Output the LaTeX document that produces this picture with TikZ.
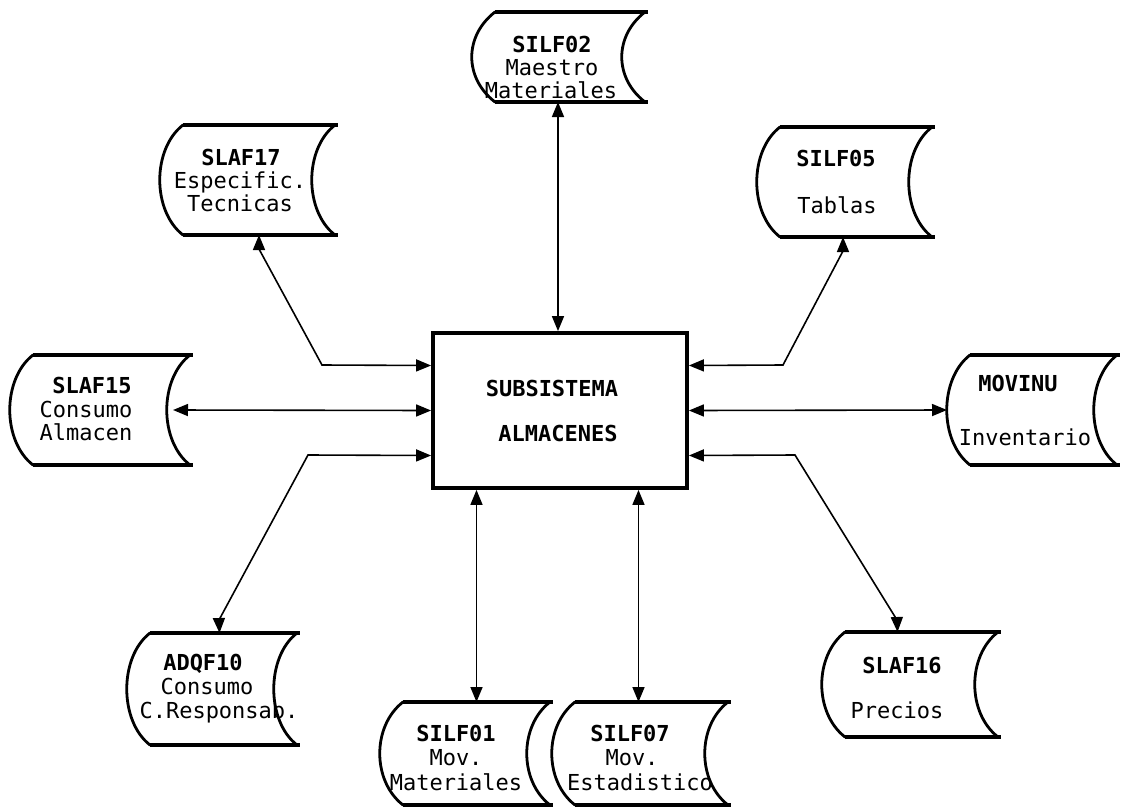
\documentclass[tikz,border=0pt]{standalone}
\usepackage{fontspec}
\setmonofont{DejaVu Sans Mono}
\usetikzlibrary{arrows.meta}
\tikzset{
  frame/.style={inner sep=0pt, outer sep=0pt, draw=none},
  arcline/.style={line width=2.8pt, line cap=round},
  edgeline/.style={line width=3.8pt},
  mainbox/.style={draw, line width=3.8pt, inner sep=0pt, minimum width=254pt, minimum height=155pt},
  conn/.style={line width=1.6pt, {Triangle[length=15pt,width=12pt]}-{Triangle[length=15pt,width=12pt]}},
  lbl/.style={inner sep=0pt, anchor=base, font=\fontsize{22}{24}\selectfont\ttfamily},
  nm/.style={lbl, font=\fontsize{22}{24}\selectfont\ttfamily\bfseries},
}
\newcommand\storeshape[1]{%
  \draw[arcline] (#1.north west) .. controls +(-31,24) and +(-31,-24) .. (#1.south west);
  \draw[arcline] (#1.north east) .. controls +(-31,24) and +(-31,-24) .. (#1.south east);
  \draw[edgeline] (#1.north west) -- ([xshift=3pt]#1.north east);
  \draw[edgeline] (#1.south west) -- ([xshift=3pt]#1.south east);
}
\begin{document}
\begin{tikzpicture}[x=1pt,y=-1pt]
\useasboundingbox (0,0) rectangle (1128,809);
% frames
\node[frame, minimum width=150pt, minimum height=90pt] (silf02) at (570,57) {};
\node[frame, minimum width=152pt, minimum height=110pt] (slaf17) at (259,180) {};
\node[frame, minimum width=152pt, minimum height=110pt] (silf05) at (856,182) {};
\node[frame, minimum width=157pt, minimum height=110pt] (slaf15) at (111.5,410) {};
\node[frame, minimum width=147pt, minimum height=110pt] (movinu) at (1043.5,410) {};
\node[frame, minimum width=147pt, minimum height=103pt] (silf01) at (476.5,753.5) {};
\node[frame, minimum width=153pt, minimum height=103pt] (silf07) at (651.5,753.5) {};
\node[frame, minimum width=147pt, minimum height=112pt] (adqf10) at (223.5,689) {};
\node[frame, minimum width=153pt, minimum height=105pt] (slaf16) at (921.5,684.5) {};
\foreach \n in {silf02,slaf17,silf05,slaf15,movinu,silf01,silf07,adqf10,slaf16} {\storeshape{\n}}
% central box
\node[mainbox] (box) at (560,410.5) {};
% labels
\node[nm] (t02a) at (552,52) {SILF02};
\node[lbl] (t02b) at (552,75) {Maestro};
\node[lbl] (t02c) at (551,98) {Materiales};
\node[nm] (t17a) at (241,165) {SLAF17};
\node[lbl] (t17b) at (240,188) {Especific.};
\node[lbl] (t17c) at (240,211) {Tecnicas};
\node[nm] (t05a) at (836,166) {SILF05};
\node[lbl] (t05b) at (837,213) {Tablas};
\node[nm] (t15a) at (92,393) {SLAF15};
\node[lbl] (t15b) at (86,417) {Consumo};
\node[lbl] (t15c) at (86,440) {Almacen};
\node[nm] (tmva) at (1018,391) {MOVINU};
\node[lbl] (tmvb) at (1025,445) {Inventario};
\node[nm] (t01a) at (456,741) {SILF01};
\node[lbl] (t01b) at (456,765) {Mov.};
\node[lbl] (t01c) at (456,790) {Materiales};
\node[nm] (t07a) at (630,741) {SILF07};
\node[lbl] (t07b) at (632,765) {Mov.};
\node[lbl] (t07c) at (640,790) {Estadistico};
\node[nm] (t10a) at (203,670) {ADQF10};
\node[lbl] (t10b) at (207,694) {Consumo};
\node[lbl] (t10c) at (219,718) {C.Responsab.};
\node[nm] (t16a) at (902,673) {SLAF16};
\node[lbl] (t16b) at (897,718) {Precios};
\node[nm] (tbxa) at (552,396) {SUBSISTEMA};
\node[nm] (tbxb) at (558,441) {ALMACENES};
% connector coordinates
\coordinate (s02) at ([xshift=-12pt]silf02.south);
\coordinate (s07) at ([xshift=-13pt]silf07.north);
\coordinate (b17) at (322,365);
\coordinate (b05) at (783,365);
\coordinate (b10) at (308,455);
\coordinate (b16) at (795,455);
% connectors
\draw[conn] (s02) -- (s02 |- box.north);
\draw[conn] (slaf17.south) -- ++(0,14) -- (b17) -- ([yshift=45pt]box.west);
\draw[conn] ([xshift=-17pt]slaf15.east) -- (box.west);
\draw[conn] ([yshift=-45pt]box.west) -- (b10) -- (219,620) -- ([xshift=-4pt]adqf10.north);
\draw[conn] ([xshift=-13pt]silf05.south) -- ++(0,14) -- (b05) -- ([yshift=45pt]box.east);
\draw[conn] (box.east) -- ([xshift=-23pt]movinu.west);
\draw[conn] ([yshift=-45pt]box.east) -- (b16) -- (897,620) -- ([xshift=-24pt]slaf16.north);
\draw[conn] (box.south -| silf01.north) -- (silf01.north);
\draw[conn] (s07 |- box.south) -- (s07);
\end{tikzpicture}
\end{document}
